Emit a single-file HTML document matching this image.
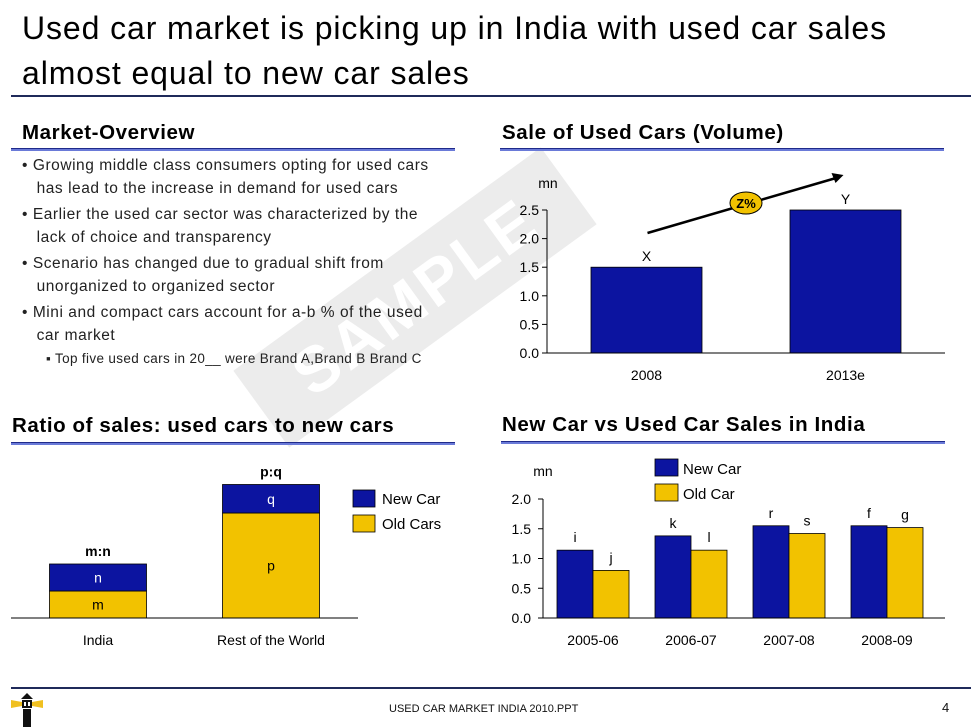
<!DOCTYPE html>
<html><head><meta charset="utf-8"><style>
body{margin:0;width:971px;height:728px;background:#fff;position:relative;overflow:hidden;font-family:"Liberation Sans",sans-serif}
.t{position:absolute;white-space:nowrap}
.h{font-weight:bold;font-size:20.5px;color:#000}
.b{font-size:15.5px;color:#222;letter-spacing:0.55px}
</style></head><body>
<div style="position:absolute;left:225px;top:250px;width:380px;height:95px;background:#ececec;transform:rotate(-36deg);transform-origin:center;color:#fff;font-size:64px;font-weight:bold;text-align:center;line-height:95px;letter-spacing:3px">SAMPLE</div>
<div class="t" style="left:22px;top:6px;font-size:32px;letter-spacing:0.9px;line-height:45px;color:#000">Used car market is picking up in India with used car sales<br>almost equal to new car sales</div>
<div style="position:absolute;left:11px;top:95px;width:960px;height:2px;background:#1f2a5a"></div>

<div class="t h" style="left:22px;top:121px;letter-spacing:0.6px">Market-Overview</div>
<div style="position:absolute;left:11px;top:148px;width:444px;height:1px;background:#1f2a8a;border-bottom:2px solid #6a7ad8"></div>
<div class="b" style="position:absolute;left:22px;top:155px;line-height:22.5px">
<div>• Growing middle class consumers opting for used cars<br>&nbsp;&nbsp;&nbsp;has lead to the increase in demand for used cars</div>
<div style="margin-top:4px">• Earlier the used car sector was characterized by the<br>&nbsp;&nbsp;&nbsp;lack of choice and transparency</div>
<div style="margin-top:4px">• Scenario has changed due to gradual shift from<br>&nbsp;&nbsp;&nbsp;unorganized to organized sector</div>
<div style="margin-top:4px">• Mini and compact cars account for a-b % of the used<br>&nbsp;&nbsp;&nbsp;car market</div>
<div style="margin-left:24px;font-size:13.5px;letter-spacing:0.35px;margin-top:1px">▪ Top five used cars in 20__ were Brand A,Brand B Brand C</div>
</div>

<div class="t h" style="left:502px;top:121px;letter-spacing:0.6px">Sale of Used Cars (Volume)</div>
<div style="position:absolute;left:500px;top:148px;width:444px;height:1px;background:#1f2a8a;border-bottom:2px solid #6a7ad8"></div>
<div class="t h" style="left:12px;top:414px;letter-spacing:0.6px">Ratio of sales: used cars to new cars</div>
<div style="position:absolute;left:11px;top:442px;width:444px;height:1px;background:#1f2a8a;border-bottom:2px solid #6a7ad8"></div>
<div class="t h" style="left:502px;top:413px;letter-spacing:0.6px">New Car vs Used Car Sales in India</div>
<div style="position:absolute;left:501px;top:441px;width:444px;height:1px;background:#1f2a8a;border-bottom:2px solid #6a7ad8"></div>

<svg id="c" width="971" height="728" style="position:absolute;left:0;top:0" font-family="Liberation Sans, sans-serif"></svg>

<div style="position:absolute;left:11px;top:687px;width:960px;height:2px;background:#1f2a5a"></div>
<div class="t" style="left:389px;top:703px;font-size:11px;color:#111">USED CAR MARKET INDIA 2010.PPT</div>
<div class="t" style="left:942px;top:700px;font-size:13px;color:#111">4</div>
<svg style="position:absolute;left:10px;top:692px" width="34" height="36"><polygon points="1,8 12,10 12,14 1,16" fill="#f0c020"/><polygon points="33,8 22,10 22,14 33,16" fill="#f0c020"/><polygon points="11,7 17,1 23,7" fill="#111"/><rect x="12" y="8" width="10" height="8" fill="#111"/><rect x="14" y="10" width="2" height="4" fill="#fff"/><rect x="18" y="10" width="2" height="4" fill="#fff"/><rect x="13" y="17" width="8" height="18" fill="#111"/></svg>

<script>
const NS='http://www.w3.org/2000/svg';
const svg=document.getElementById('c');
const BLUE='#0c14a0',YEL='#f2c200';
function mk(tag,attrs,parent){const e=document.createElementNS(NS,tag);for(const k in attrs)e.setAttribute(k,attrs[k]);(parent||svg).appendChild(e);return e;}
function tx(x,y,s,attrs){const e=mk('text',Object.assign({x:x,y:y,'font-size':14,'text-anchor':'middle'},attrs||{}));e.textContent=s;return e;}

// Chart 1 data
const volCats=['2008','2013e'];
const volValues=[1.5,2.5];
const volLabels=['X','Y'];
const volTicks=[0,0.5,1.0,1.5,2.0,2.5];

// Chart 2 data
const ratioCats=['India','Rest of the World'];
const ratioOld=[0.9,3.5];
const ratioNew=[0.9,0.95];
const ratioOldLabels=['m','p'];
const ratioNewLabels=['n','q'];
const ratioTop=['m:n','p:q'];

// Chart 3 data
const salesCats=['2005-06','2006-07','2007-08','2008-09'];
const salesNew=[1.14,1.38,1.55,1.55];
const salesOld=[0.8,1.14,1.42,1.52];
const salesNewLabels=['i','k','r','f'];
const salesOldLabels=['j','l','s','g'];
const salesTicks=[0,0.5,1.0,1.5,2.0];

// ---- Chart 1
(function(){
 const g=mk('g',{});
 
 
 const x0=547,x1=945,y0=353,yTop=210,maxV=2.5;
 const y=v=>y0-(v/maxV)*(y0-yTop);
 const band=(x1-x0)/volCats.length;
 volTicks.forEach(t=>{
  mk('line',{x1:x0-5,x2:x0,y1:y(t),y2:y(t),stroke:'#000'},g);
  const l=tx(x0-8,y(t)+5,t.toFixed(1),{'text-anchor':'end'});
  g.appendChild(l);
 });
 const un=tx(548,188,'mn');
 volCats.forEach((c,i)=>{
  const cx=x0+band*(i+0.5),w=111;
  const r=mk('rect',{x:cx-w/2,y:y(volValues[i]),width:w,height:y0-y(volValues[i]),fill:BLUE,stroke:'#000','stroke-width':0.8},g);
  
  const v=tx(cx,y(volValues[i])-6,volLabels[i]);
  const l=tx(cx,380,c);
 });
 mk('line',{x1:x0,x2:x0,y1:yTop,y2:y0,stroke:'#000'},g);
 mk('line',{x1:x0,x2:x1,y1:y0,y2:y0,stroke:'#000'},g);
 const ax=x0+band*0.5,bx=x0+band*1.5;
 const a=mk('line',{x1:ax+1,y1:233,x2:bx-6,y2:177,stroke:'#000','stroke-width':2.5},g);
 
 mk('polygon',{points:(bx-2)+',175 '+(bx-14)+',173 '+(bx-10)+',183',fill:'#000'},g);
 const e=mk('ellipse',{cx:746,cy:203,rx:16,ry:11,fill:'#f2c200',stroke:'#000','stroke-width':1},g);
 
 tx(746,208,'Z%',{'font-weight':'bold','font-size':13});
})();

// ---- Chart 2
(function(){
 const g=mk('g',{});
 
 
 const base=618,scale=30,w=97;
 const centers=[98,271];
 ratioCats.forEach((c,i)=>{
  const cx=centers[i];
  const ho=ratioOld[i]*scale,hn=ratioNew[i]*scale;
  const r1=mk('rect',{x:cx-w/2,y:base-ho,width:w,height:ho,fill:YEL,stroke:'#000','stroke-width':0.8},g);
  
  const r2=mk('rect',{x:cx-w/2,y:base-ho-hn,width:w,height:hn,fill:BLUE,stroke:'#000','stroke-width':0.8},g);
  
  tx(cx,base-ho/2+5,ratioOldLabels[i]);
  tx(cx,base-ho-hn/2+5,ratioNewLabels[i],{fill:'#fff'});
  const t=tx(cx,base-ho-hn-8,ratioTop[i],{'font-weight':'bold'});
  const l=tx(cx,645,c);
 });
 mk('line',{x1:11,x2:358,y1:base,y2:base,stroke:'#000'},g);
 const lg1=mk('rect',{x:353,y:490,width:22,height:17,fill:BLUE,stroke:'#000','stroke-width':0.8},g);
 
 tx(382,504,'New Car',{'text-anchor':'start','font-size':15});
 const lg2=mk('rect',{x:353,y:515,width:22,height:17,fill:YEL,stroke:'#000','stroke-width':0.8},g);
 
 tx(382,529,'Old Cars',{'text-anchor':'start','font-size':15});
})();

// ---- Chart 3
(function(){
 const g=mk('g',{});
 
 
 const x0=543,x1=945,y0=618,yTop=499,maxV=2.0,w=36;
 const y=v=>y0-(v/maxV)*(y0-yTop);
 const band=(x1-x0-10)/salesCats.length;
 salesTicks.forEach(t=>{
  mk('line',{x1:x0-5,x2:x0,y1:y(t),y2:y(t),stroke:'#000'},g);
  const l=tx(x0-12,y(t)+5,t.toFixed(1),{'text-anchor':'end'});
  
 });
 tx(543,476,'mn');
 salesCats.forEach((c,i)=>{
  const cx=x0+band*(i+0.5)+1;
  const rb=mk('rect',{x:cx-w,y:y(salesNew[i]),width:w,height:y0-y(salesNew[i]),fill:BLUE,stroke:'#000','stroke-width':0.8},g);
  
  const ry=mk('rect',{x:cx,y:y(salesOld[i]),width:w,height:y0-y(salesOld[i]),fill:YEL,stroke:'#000','stroke-width':0.8},g);
  
  tx(cx-w/2,y(salesNew[i])-8,salesNewLabels[i]);
  tx(cx+w/2,y(salesOld[i])-8,salesOldLabels[i]);
  const l=tx(cx,645,c);
 });
 mk('line',{x1:x0,x2:x0,y1:yTop,y2:y0,stroke:'#000'},g);
 mk('line',{x1:x0-5,x2:x1,y1:y0,y2:y0,stroke:'#000'},g);
 const l1=mk('rect',{x:655,y:459,width:23,height:17,fill:BLUE,stroke:'#000','stroke-width':0.8},g);
 
 tx(683,474,'New Car',{'text-anchor':'start','font-size':15});
 const l2=mk('rect',{x:655,y:484,width:23,height:17,fill:YEL,stroke:'#000','stroke-width':0.8},g);
 
 tx(683,499,'Old Car',{'text-anchor':'start','font-size':15});
})();
</script>
</body></html>
